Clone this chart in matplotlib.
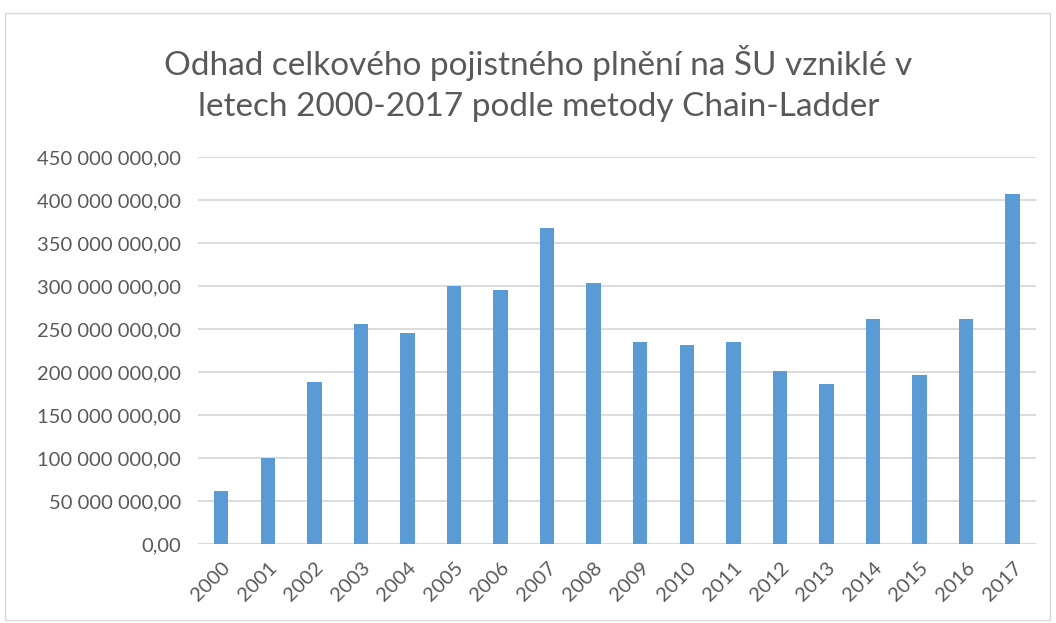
import matplotlib.pyplot as plt
from matplotlib.patches import Rectangle
from matplotlib.ticker import FuncFormatter

years = [str(y) for y in range(2000, 2018)]
values_mil = [61.4, 100.0, 188.6, 255.5, 245.0, 300.0, 295.5, 368.0, 304.0,
              235.3, 231.4, 235.0, 201.0, 185.5, 261.7, 196.0, 261.3, 406.4]
values = [v * 1e6 for v in values_mil]

plt.rcParams['font.family'] = ['Lato', 'DejaVu Sans']
grey_text = '#595959'
grid_col = '#d9d9d9'

fig = plt.figure(figsize=(10.56, 6.23), dpi=100)
ax = fig.add_axes([0.1875, 0.1268, 0.7935, 0.6212])

x = list(range(len(years)))
ax.bar(x, values, width=0.31, color='#5b9bd5', zorder=3)

ax.set_xlim(-0.5, len(years) - 0.5)
ax.set_ylim(0, 450e6)
ax.set_yticks([i * 50e6 for i in range(10)])
ax.yaxis.set_major_formatter(FuncFormatter(
    lambda v, p: '{:,.2f}'.format(v).replace(',', ' ').replace('.', ',')))
ax.grid(axis='y', color=grid_col, linewidth=1.3, zorder=0)
for s in ax.spines.values():
    s.set_visible(False)
ax.axhline(0, color=grid_col, linewidth=1.3, zorder=2)

ax.set_xticks(x)
ax.set_xticklabels(years, rotation=45, ha='right', rotation_mode='anchor')
ax.tick_params(axis='both', length=0, labelsize=14.5, colors=grey_text)
ax.tick_params(axis='y', pad=12)
ax.tick_params(axis='x', pad=11)

fig.text(0.51, 0.866, 'Odhad celkového pojistného plnění na ŠU vzniklé v\n'
         'letech 2000-2017 podle metody Chain-Ladder',
         ha='center', va='center', fontsize=24, color=grey_text, linespacing=1.42)

fig.patches.append(Rectangle((5 / 1056, 3 / 623), 1045 / 1056, 607 / 623,
                             transform=fig.transFigure, fill=False,
                             edgecolor=grid_col, linewidth=1))

fig.savefig('out.png', dpi=100)
